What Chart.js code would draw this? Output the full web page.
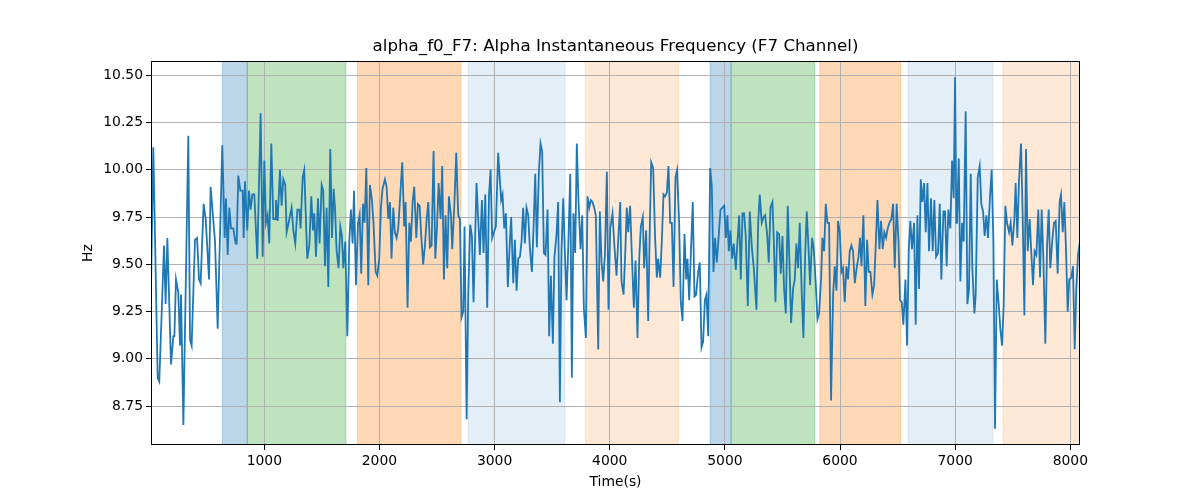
<!DOCTYPE html>
<html>
<head>
<meta charset="utf-8">
<script src="https://cdn.jsdelivr.net/npm/chart.js@4.4.0/dist/chart.umd.min.js"></script>
<style>
  html, body { margin: 0; padding: 0; background: #fff; }
</style>
</head>
<body>
<canvas id="alphaF7" width="1200" height="500"></canvas>
<script>
// time (s) and instantaneous alpha frequency (Hz)
const times = [
  16, 36, 74, 88, 129, 143, 158, 190, 210, 219, 233, 253, 268, 277, 297, 340, 355, 369, 398, 416,
  433, 447, 473, 491, 520, 534, 572, 595, 635, 656, 667, 682, 696, 711, 731, 751, 760, 774, 792, 812,
  821, 832, 852, 867, 881, 896, 913, 939, 968, 986, 1000, 1015,
  1029, 1043, 1061, 1078, 1093, 1101, 1116, 1136, 1150, 1165, 1182, 1194, 1211, 1237, 1252, 1269, 1287, 1304,
  1315, 1333, 1347, 1373, 1391, 1408, 1423, 1434, 1449, 1466, 1480, 1498, 1512, 1527, 1541, 1556, 1573, 1588,
  1602, 1614, 1628, 1645, 1660, 1674, 1686, 1703, 1721, 1738, 1752, 1767, 1779, 1796, 1813, 1828, 1842, 1857,
  1871, 1886, 1903, 1917, 1935, 1949, 1967, 1981, 1998, 2013, 2027,
  2048, 2062, 2077, 2091, 2105, 2120, 2134, 2149, 2163, 2181, 2198, 2215, 2227, 2244, 2259, 2273, 2288, 2302,
  2320, 2334, 2349, 2363, 2380, 2395, 2409, 2424, 2438, 2453, 2470, 2485, 2499, 2514, 2531, 2545, 2560, 2574,
  2589, 2603, 2621, 2632, 2650, 2667, 2684, 2699, 2713, 2728, 2739, 2757, 2771, 2788, 2803, 2817, 2843, 2858,
  2872, 2890, 2904, 2919, 2936, 2951, 2965, 2979, 2994, 3011, 3031,
  3057, 3069, 3084, 3098, 3115, 3133, 3144, 3162, 3176, 3191, 3205, 3220, 3234, 3248, 3263, 3277, 3292, 3306,
  3324, 3338, 3353, 3367, 3384, 3399, 3413, 3428, 3442, 3460, 3474, 3489, 3506, 3520, 3538, 3552, 3567, 3581,
  3596, 3610, 3625, 3639, 3657, 3671, 3685, 3700, 3714, 3729, 3746, 3761, 3775, 3793, 3807, 3822, 3836, 3850,
  3865, 3879, 3900, 3914, 3929, 3943, 3958, 3975, 3989, 4004, 4024,
  4038, 4059, 4073, 4091, 4102, 4120, 4134, 4148, 4160, 4177, 4192, 4209, 4224, 4241, 4256, 4270, 4287, 4299,
  4316, 4334, 4348, 4360, 4377, 4394, 4409, 4420, 4438, 4452, 4467, 4481, 4496, 4510, 4525, 4539, 4554, 4571,
  4585, 4603, 4617, 4632, 4649, 4664, 4675, 4690, 4704, 4721, 4736, 4750, 4768, 4782, 4797, 4811, 4826, 4840,
  4855, 4872, 4886, 4901, 4915, 4930, 4944, 4962, 4979, 4994, 5008, 5022,
  5034, 5048, 5063, 5077, 5095, 5109, 5124, 5138, 5153, 5167, 5181, 5199, 5216, 5234, 5251, 5274, 5289, 5303,
  5320, 5335, 5349, 5367, 5381, 5396, 5413, 5425, 5439, 5454, 5471, 5485, 5500, 5514, 5529, 5546, 5561, 5575,
  5592, 5607, 5621, 5636, 5650, 5668, 5682, 5697, 5711, 5726, 5740, 5757, 5772, 5789, 5804, 5818, 5836, 5847,
  5862, 5876, 5891, 5905, 5922, 5940, 5954, 5969, 5983, 5998, 6012,
  6026, 6041, 6055, 6070, 6084, 6099, 6113, 6128, 6142, 6160, 6174, 6186, 6203, 6220, 6235, 6249, 6264, 6281,
  6296, 6310, 6325, 6342, 6356, 6371, 6385, 6400, 6414, 6429, 6446, 6461, 6475, 6492, 6507, 6521, 6536, 6550,
  6568, 6582, 6597, 6611, 6625, 6643, 6657, 6672, 6686, 6701, 6715, 6730, 6744, 6759, 6773, 6790, 6805, 6819,
  6834, 6851, 6866, 6880, 6898, 6912, 6926, 6941, 6958, 6973, 6987, 6999, 7010,
  7016, 7031, 7045, 7060, 7074, 7091, 7106, 7120, 7135, 7149, 7167, 7178, 7196, 7213, 7227, 7242, 7256, 7271,
  7285, 7300, 7317, 7332, 7346, 7361, 7378, 7392, 7407, 7421, 7436, 7450, 7468, 7482, 7497, 7514, 7525, 7540,
  7554, 7572, 7586, 7601, 7615, 7630, 7647, 7662, 7676, 7690, 7705, 7722, 7737, 7751, 7766, 7783, 7798, 7812,
  7826, 7844, 7858, 7873, 7890, 7907, 7919, 7934, 7948, 7963, 7977, 7991, 8009, 8023, 8038, 8052, 8067, 8081
];
const freqs = [
  9.37, 10.12, 8.90, 8.88, 9.60, 9.29, 9.64, 8.97, 9.12, 9.12, 9.42, 9.35, 9.07, 9.34, 8.65, 10.18, 9.10, 9.07, 9.63, 9.64,
  9.42, 9.40, 9.82, 9.74, 9.42, 9.91, 9.62, 9.16, 10.13, 9.64, 9.85, 9.55, 9.80, 9.69, 9.69, 9.61, 9.61, 9.97, 9.89, 9.89,
  9.64, 9.94, 9.68, 9.89, 9.79, 9.87, 9.87, 9.53, 10.30, 9.54, 10.05, 9.72,
  9.76, 9.61, 10.14, 9.74, 9.74, 9.84, 9.73, 10.00, 9.81, 9.95, 9.92, 9.67, 9.72, 9.80, 9.68, 9.61, 9.79, 9.79,
  9.69, 9.96, 10.00, 9.53, 9.60, 9.86, 9.68, 9.77, 9.54, 9.85, 9.61, 9.92, 9.89, 9.49, 9.80, 9.38, 10.11, 9.64,
  9.90, 9.80, 9.57, 9.48, 9.70, 9.65, 9.48, 9.62, 9.12, 9.62, 9.79, 9.61, 9.89, 9.39, 9.71, 9.76, 9.45, 9.82,
  9.72, 10.01, 9.39, 9.92, 9.84, 9.71, 9.46, 9.44, 9.53, 9.80, 9.90,
  9.95, 9.91, 9.74, 9.83, 9.53, 9.80, 9.67, 9.64, 9.69, 9.87, 10.04, 9.70, 9.83, 9.27, 9.72, 9.62, 9.83, 9.91,
  9.64, 9.82, 9.81, 9.65, 9.50, 9.60, 9.73, 9.83, 9.59, 9.60, 10.10, 9.53, 9.69, 9.93, 9.74, 10.02, 9.42, 9.76,
  9.48, 9.86, 9.76, 9.58, 9.81, 10.09, 9.76, 9.74, 9.22, 9.25, 9.70, 8.68, 9.34, 9.71, 9.65, 9.30, 9.93, 9.74,
  9.55, 9.84, 9.56, 9.87, 9.27, 9.86, 10.00, 9.64, 9.67, 9.70, 10.09,
  9.84, 9.87, 9.69, 9.77, 9.38, 9.63, 9.75, 9.40, 9.63, 9.36, 9.53, 9.54, 9.62, 9.80, 9.61, 9.80, 9.76, 9.59,
  9.46, 9.69, 9.98, 9.59, 9.98, 10.14, 10.10, 9.56, 9.55, 9.79, 9.12, 9.44, 9.08, 9.54, 9.66, 9.83, 8.77, 9.57,
  9.85, 9.57, 9.31, 9.58, 9.98, 8.90, 9.77, 9.56, 10.14, 9.83, 9.58, 9.76, 9.27, 9.11, 9.86, 9.80, 9.84, 9.83,
  9.80, 9.76, 9.05, 9.78, 9.51, 9.41, 9.55, 9.99, 9.26, 9.69, 9.77,
  9.62, 9.44, 9.62, 9.83, 9.41, 9.34, 9.55, 9.80, 9.67, 9.81, 9.55, 9.27, 9.52, 9.11, 9.53, 9.70, 9.75, 9.48,
  9.68, 9.20, 9.70, 10.04, 10.01, 9.64, 9.43, 9.53, 9.43, 9.62, 9.87, 9.86, 9.88, 10.02, 9.72, 9.72, 9.38, 9.96,
  10.00, 9.71, 9.30, 9.20, 9.66, 9.42, 9.53, 9.31, 9.55, 9.83, 9.33, 9.34, 9.46, 9.51, 9.06, 9.09, 9.31, 9.34,
  9.12, 10.01, 9.92, 9.46, 9.64, 9.51, 9.63, 9.79, 9.80, 9.81, 9.64, 9.76,
  9.57, 9.68, 9.53, 9.61, 9.47, 9.62, 9.76, 9.42, 9.77, 9.77, 9.65, 9.28, 9.78, 9.59, 9.48, 9.26, 9.72, 9.87,
  9.72, 9.75, 9.76, 9.66, 9.51, 9.80, 9.83, 9.62, 9.30, 9.67, 9.66, 9.45, 9.65, 9.37, 9.24, 9.81, 9.50, 9.19,
  9.37, 9.42, 9.61, 9.48, 9.72, 9.34, 9.11, 9.55, 9.78, 9.59, 9.39, 9.64, 9.58, 9.40, 9.21, 9.24, 9.43, 9.64,
  9.57, 9.82, 9.72, 9.72, 8.78, 9.34, 9.49, 9.36, 9.73, 9.67, 9.46,
  9.48, 9.30, 9.49, 9.42, 9.57, 9.60, 9.57, 9.40, 9.47, 9.54, 9.64, 9.49, 9.76, 9.28, 9.63, 9.46, 9.46, 9.34,
  9.39, 9.60, 9.84, 9.58, 9.73, 9.58, 9.67, 9.64, 9.69, 9.72, 9.74, 9.82, 9.48, 9.82, 9.63, 9.31, 9.30, 9.18,
  9.42, 9.07, 9.58, 9.73, 9.58, 9.72, 9.18, 9.76, 9.37, 9.95, 9.83, 9.93, 9.67, 9.93, 9.57, 9.85, 9.57, 9.84,
  9.54, 9.56, 9.82, 9.42, 9.78, 9.78, 9.49, 9.79, 9.69, 10.05, 9.85, 10.49, 9.72,
  9.72, 10.06, 9.41, 9.72, 9.62, 10.31, 9.29, 9.37, 9.98, 9.48, 9.24, 9.34, 9.96, 10.02, 9.82, 9.78, 9.65, 9.76,
  9.64, 9.83, 10.00, 9.62, 8.63, 9.42, 9.29, 9.16, 9.07, 9.28, 9.81, 9.72, 9.67, 9.72, 9.60, 9.74, 9.93, 9.64,
  9.94, 10.14, 9.76, 9.23, 10.11, 9.57, 9.74, 9.55, 9.39, 9.57, 9.55, 9.79, 9.43, 9.79, 9.53, 9.08, 9.60, 9.79,
  9.48, 9.63, 9.72, 9.73, 9.45, 9.83, 9.87, 9.67, 9.83, 9.57, 9.25, 9.42, 9.43, 9.49, 9.05, 9.37, 9.55, 9.61
];

// shaded epochs: start / end time (s) and kind
const bandStart = [635, 852, 1810, 2771, 3787, 4872, 5054, 5824, 6591, 7415];
const bandEnd   = [852, 1709, 2708, 3610, 4600, 5054, 5781, 6527, 7329, 8084];
const bandKind  = ['blue', 'green', 'orange', 'paleBlue', 'paleOrange',
                   'blue', 'green', 'orange', 'paleBlue', 'paleOrange'];

const xTickValues = [1000, 2000, 3000, 4000, 5000, 6000, 7000, 8000];
const yTickValues = [8.75, 9.00, 9.25, 9.50, 9.75, 10.00, 10.25, 10.50];

const kindColor = {
  blue: 'rgba(31, 119, 180, 0.3)',
  green: 'rgba(44, 160, 44, 0.3)',
  orange: 'rgba(255, 127, 14, 0.3)',
  paleBlue: 'rgba(31, 119, 180, 0.12)',
  paleOrange: 'rgba(255, 127, 14, 0.17)'
};

const FONT = 'DejaVu Sans';

const bandsPlugin = {
  id: 'bands',
  beforeDraw(chart) {
    const {ctx, chartArea, scales} = chart;
    ctx.save();
    ctx.beginPath();
    ctx.rect(chartArea.left, chartArea.top, chartArea.right - chartArea.left, chartArea.bottom - chartArea.top);
    ctx.clip();
    for (let i = 0; i < bandStart.length; i++) {
      const x0 = scales.x.getPixelForValue(bandStart[i]);
      const x1 = scales.x.getPixelForValue(bandEnd[i]);
      ctx.fillStyle = kindColor[bandKind[i]];
      ctx.fillRect(x0, chartArea.top, x1 - x0, chartArea.bottom - chartArea.top);
      ctx.strokeStyle = kindColor[bandKind[i]];
      ctx.lineWidth = 1;
      ctx.strokeRect(x0, chartArea.top, x1 - x0, chartArea.bottom - chartArea.top);
    }
    ctx.restore();
  },
  afterDraw(chart) {
    const {ctx, chartArea} = chart;
    ctx.save();
    ctx.strokeStyle = '#000';
    ctx.lineWidth = 1;
    ctx.strokeRect(Math.round(chartArea.left) + 0.5, Math.round(chartArea.top) + 0.5,
      Math.round(chartArea.right - chartArea.left) - 1, Math.round(chartArea.bottom - chartArea.top) - 1);
    ctx.restore();
  }
};

new Chart(document.getElementById('alphaF7'), {
  type: 'line',
  data: {
    datasets: [{
      label: 'alpha_f0_F7',
      data: times.map((t, i) => ({x: t, y: freqs[i]})),
      borderColor: '#1f77b4',
      borderWidth: 1.8,
      pointRadius: 0,
      tension: 0,
      fill: false
    }]
  },
  options: {
    responsive: false,
    animation: false,
    devicePixelRatio: 1,
    layout: { padding: { left: 79, right: 120, top: 37, bottom: 0 } },
    plugins: {
      legend: { display: false },
      tooltip: { enabled: false },
      title: {
        display: true,
        fullSize: false,
        text: 'alpha_f0_F7: Alpha Instantaneous Frequency (F7 Channel)',
        color: '#000',
        font: { family: FONT, size: 16.7, weight: 'normal' },
        padding: { top: 0, bottom: 4 }
      }
    },
    scales: {
      x: {
        type: 'linear',
        min: 16,
        max: 8084,
        afterFit: s => { s.height = 55; },
        afterBuildTicks: s => { s.ticks = xTickValues.map(v => ({value: v})); },
        ticks: {
          color: '#000',
          font: { family: FONT, size: 13.9 },
          padding: 3,
          maxRotation: 0,
          callback: v => String(v)
        },
        grid: { color: '#b0b0b0', lineWidth: 1, tickLength: 5, tickColor: '#000' },
        border: { display: false },
        title: {
          display: true,
          text: 'Time(s)',
          color: '#000',
          font: { family: FONT, size: 13.9 },
          padding: { top: 0, bottom: 9 }
        }
      },
      y: {
        type: 'linear',
        min: 8.544,
        max: 10.576,
        afterFit: s => { s.width = 72; },
        afterBuildTicks: s => { s.ticks = yTickValues.map(v => ({value: v})); },
        ticks: {
          color: '#000',
          font: { family: FONT, size: 13.9 },
          padding: 3,
          callback: v => Number(v).toFixed(2)
        },
        grid: { color: '#b0b0b0', lineWidth: 1, tickLength: 5, tickColor: '#000' },
        border: { display: false },
        title: {
          display: true,
          text: 'Hz',
          color: '#000',
          font: { family: FONT, size: 13.9 },
          padding: { top: 1, bottom: 0 }
        }
      }
    }
  },
  plugins: [bandsPlugin]
});
</script>
</body>
</html>
